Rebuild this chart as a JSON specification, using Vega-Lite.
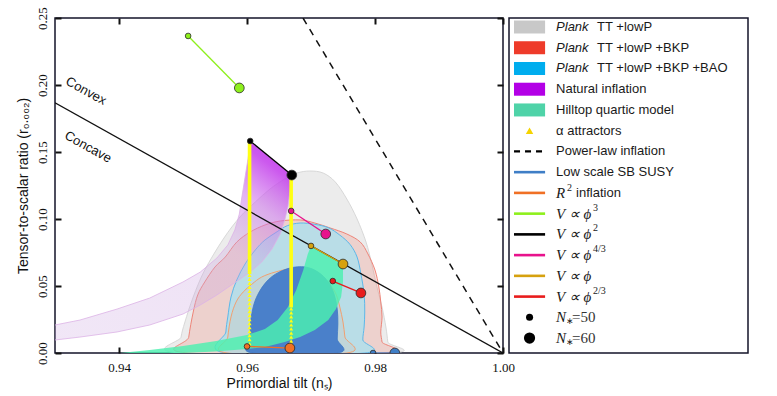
{
  "$schema": "https://vega.github.io/schema/vega-lite/v6.json",
  "background": "white",
  "padding": {"left": 15, "top": 5, "right": 5, "bottom": 5},
  "spacing": 6,
  "bounds": "flush",
  "config": {
    "font": "Liberation Sans",
    "view": {"stroke": "#14142a", "strokeWidth": 1.5}
  },
  "datasets": {
    "contours": [
      {"r": "grey", "x": 0.9495, "y": 0}, {"r": "grey", "x": 0.9497, "y": 0.0119}, {"r": "grey", "x": 0.9503, "y": 0.0231}, {"r": "grey", "x": 0.9516, "y": 0.0418}, {"r": "grey", "x": 0.9534, "y": 0.0619}, {"r": "grey", "x": 0.9563, "y": 0.0851}, {"r": "grey", "x": 0.9589, "y": 0.1015}, {"r": "grey", "x": 0.9613, "y": 0.1127}, {"r": "grey", "x": 0.9636, "y": 0.1224}, {"r": "grey", "x": 0.9659, "y": 0.1299}, {"r": "grey", "x": 0.9678, "y": 0.1343}, {"r": "grey", "x": 0.9698, "y": 0.1358}, {"r": "grey", "x": 0.9719, "y": 0.1343}, {"r": "grey", "x": 0.9738, "y": 0.1276}, {"r": "grey", "x": 0.9756, "y": 0.1149}, {"r": "grey", "x": 0.9772, "y": 0.1000}, {"r": "grey", "x": 0.9786, "y": 0.0828}, {"r": "grey", "x": 0.9795, "y": 0.0664}, {"r": "grey", "x": 0.9803, "y": 0.0493}, {"r": "grey", "x": 0.9811, "y": 0.0343}, {"r": "grey", "x": 0.9817, "y": 0.0194}, {"r": "grey", "x": 0.9820, "y": 0.0082}, {"r": "grey", "x": 0.9822, "y": 0},
      {"r": "red2", "x": 0.9508, "y": 0}, {"r": "red2", "x": 0.9509, "y": 0.0119}, {"r": "red2", "x": 0.9516, "y": 0.0306}, {"r": "red2", "x": 0.9523, "y": 0.0433}, {"r": "red2", "x": 0.9534, "y": 0.0530}, {"r": "red2", "x": 0.9550, "y": 0.0642}, {"r": "red2", "x": 0.9566, "y": 0.0716}, {"r": "red2", "x": 0.9584, "y": 0.0828}, {"r": "red2", "x": 0.9605, "y": 0.0903}, {"r": "red2", "x": 0.9628, "y": 0.0955}, {"r": "red2", "x": 0.9652, "y": 0.0985}, {"r": "red2", "x": 0.9683, "y": 0.0993}, {"r": "red2", "x": 0.9706, "y": 0.0970}, {"r": "red2", "x": 0.9730, "y": 0.0933}, {"r": "red2", "x": 0.9756, "y": 0.0888}, {"r": "red2", "x": 0.9777, "y": 0.0828}, {"r": "red2", "x": 0.9789, "y": 0.0739}, {"r": "red2", "x": 0.9800, "y": 0.0619}, {"r": "red2", "x": 0.9806, "y": 0.0493}, {"r": "red2", "x": 0.9809, "y": 0.0381}, {"r": "red2", "x": 0.9811, "y": 0.0269}, {"r": "red2", "x": 0.9809, "y": 0.0157}, {"r": "red2", "x": 0.9811, "y": 0.0082}, {"r": "red2", "x": 0.9813, "y": 0},
      {"r": "blue2", "x": 0.9566, "y": 0}, {"r": "blue2", "x": 0.9567, "y": 0.0157}, {"r": "blue2", "x": 0.9570, "y": 0.0269}, {"r": "blue2", "x": 0.9575, "y": 0.0418}, {"r": "blue2", "x": 0.9584, "y": 0.0545}, {"r": "blue2", "x": 0.9597, "y": 0.0664}, {"r": "blue2", "x": 0.9613, "y": 0.0769}, {"r": "blue2", "x": 0.9628, "y": 0.0843}, {"r": "blue2", "x": 0.9647, "y": 0.0905}, {"r": "blue2", "x": 0.9663, "y": 0.0950}, {"r": "blue2", "x": 0.9683, "y": 0.0970}, {"r": "blue2", "x": 0.9706, "y": 0.0960}, {"r": "blue2", "x": 0.9727, "y": 0.0935}, {"r": "blue2", "x": 0.9745, "y": 0.0880}, {"r": "blue2", "x": 0.9761, "y": 0.0810}, {"r": "blue2", "x": 0.9772, "y": 0.0716}, {"r": "blue2", "x": 0.9778, "y": 0.0590}, {"r": "blue2", "x": 0.9783, "y": 0.0440}, {"r": "blue2", "x": 0.9784, "y": 0.0306}, {"r": "blue2", "x": 0.9783, "y": 0.0194}, {"r": "blue2", "x": 0.9781, "y": 0.0097}, {"r": "blue2", "x": 0.9784, "y": 0},
      {"r": "red1", "x": 0.9569, "y": 0}, {"r": "red1", "x": 0.9570, "y": 0.0119}, {"r": "red1", "x": 0.9575, "y": 0.0269}, {"r": "red1", "x": 0.9583, "y": 0.0381}, {"r": "red1", "x": 0.9594, "y": 0.0455}, {"r": "red1", "x": 0.9608, "y": 0.0515}, {"r": "red1", "x": 0.9623, "y": 0.0567}, {"r": "red1", "x": 0.9644, "y": 0.0604}, {"r": "red1", "x": 0.9667, "y": 0.0627}, {"r": "red1", "x": 0.9691, "y": 0.0627}, {"r": "red1", "x": 0.9711, "y": 0.0590}, {"r": "red1", "x": 0.9727, "y": 0.0530}, {"r": "red1", "x": 0.9739, "y": 0.0440}, {"r": "red1", "x": 0.9745, "y": 0.0343}, {"r": "red1", "x": 0.9750, "y": 0.0231}, {"r": "red1", "x": 0.9753, "y": 0.0119}, {"r": "red1", "x": 0.9756, "y": 0},
      {"r": "blue1", "x": 0.9608, "y": 0}, {"r": "blue1", "x": 0.9605, "y": 0.0119}, {"r": "blue1", "x": 0.9606, "y": 0.0246}, {"r": "blue1", "x": 0.9611, "y": 0.0366}, {"r": "blue1", "x": 0.9619, "y": 0.0455}, {"r": "blue1", "x": 0.9630, "y": 0.0530}, {"r": "blue1", "x": 0.9645, "y": 0.0590}, {"r": "blue1", "x": 0.9667, "y": 0.0634}, {"r": "blue1", "x": 0.9691, "y": 0.0642}, {"r": "blue1", "x": 0.9711, "y": 0.0604}, {"r": "blue1", "x": 0.9727, "y": 0.0530}, {"r": "blue1", "x": 0.9736, "y": 0.0440}, {"r": "blue1", "x": 0.9741, "y": 0.0328}, {"r": "blue1", "x": 0.9742, "y": 0.0216}, {"r": "blue1", "x": 0.9741, "y": 0.0104}, {"r": "blue1", "x": 0.9742, "y": 0}
    ],
    "natural": [
      {"x": 0.925, "y": 0.0175}, {"x": 0.9300, "y": 0.0209}, {"x": 0.9339, "y": 0.0246}, {"x": 0.9397, "y": 0.0328}, {"x": 0.9448, "y": 0.0410}, {"x": 0.9500, "y": 0.0530}, {"x": 0.9527, "y": 0.0604}, {"x": 0.9553, "y": 0.0709}, {"x": 0.9570, "y": 0.0806}, {"x": 0.9581, "y": 0.0918}, {"x": 0.9588, "y": 0.1037}, {"x": 0.9592, "y": 0.1164}, {"x": 0.9597, "y": 0.1313}, {"x": 0.9602, "y": 0.1463}, {"x": 0.9605, "y": 0.1582}, {"x": 0.9670, "y": 0.1328}, {"x": 0.9667, "y": 0.1201}, {"x": 0.9664, "y": 0.1090}, {"x": 0.9659, "y": 0.0993}, {"x": 0.9652, "y": 0.0888}, {"x": 0.9639, "y": 0.0776}, {"x": 0.9623, "y": 0.0679}, {"x": 0.9605, "y": 0.0604}, {"x": 0.9578, "y": 0.0515}, {"x": 0.9553, "y": 0.0433}, {"x": 0.9527, "y": 0.0358}, {"x": 0.9500, "y": 0.0291}, {"x": 0.9448, "y": 0.0209}, {"x": 0.9397, "y": 0.0157}, {"x": 0.9339, "y": 0.0119}, {"x": 0.9300, "y": 0.0097}, {"x": 0.925, "y": 0.0070}
    ],
    "hilltop": [
      {"x": 0.9402, "y": 0}, {"x": 0.9448, "y": 0.0022}, {"x": 0.9500, "y": 0.0052}, {"x": 0.9552, "y": 0.0090}, {"x": 0.9600, "y": 0.0134}, {"x": 0.9628, "y": 0.0179}, {"x": 0.9648, "y": 0.0246}, {"x": 0.9664, "y": 0.0343}, {"x": 0.9677, "y": 0.0470}, {"x": 0.9688, "y": 0.0619}, {"x": 0.9695, "y": 0.0739}, {"x": 0.9700, "y": 0.0799}, {"x": 0.9750, "y": 0.0664}, {"x": 0.9750, "y": 0.0530}, {"x": 0.9747, "y": 0.0418}, {"x": 0.9739, "y": 0.0328}, {"x": 0.9727, "y": 0.0246}, {"x": 0.9706, "y": 0.0172}, {"x": 0.9683, "y": 0.0119}, {"x": 0.9659, "y": 0.0082}, {"x": 0.9628, "y": 0.0045}, {"x": 0.9600, "y": 0.0030}, {"x": 0.9550, "y": 0.0011}, {"x": 0.9500, "y": 0}
    ],
    "models": [
      {"model": "phi3", "N": 50, "x": 0.9508, "y": 0.2366}, {"model": "phi3", "N": 60, "x": 0.9588, "y": 0.1978},
      {"model": "phi2", "N": 50, "x": 0.9605, "y": 0.1582}, {"model": "phi2", "N": 60, "x": 0.9670, "y": 0.1328},
      {"model": "phi43", "N": 50, "x": 0.9669, "y": 0.1060}, {"model": "phi43", "N": 60, "x": 0.9723, "y": 0.0888},
      {"model": "phi1", "N": 50, "x": 0.9700, "y": 0.0799}, {"model": "phi1", "N": 60, "x": 0.9750, "y": 0.0664},
      {"model": "phi23", "N": 50, "x": 0.9734, "y": 0.0537}, {"model": "phi23", "N": 60, "x": 0.9778, "y": 0.0448},
      {"model": "r2", "N": 50, "x": 0.9600, "y": 0.0049}, {"model": "r2", "N": 60, "x": 0.9667, "y": 0.0037},
      {"model": "susy", "N": 50, "x": 0.9797, "y": 0.0}, {"model": "susy", "N": 60, "x": 0.9831, "y": 0.0}
    ],
    "alpha_rules": [
      {"x": 0.9604, "y": 0.1575, "y2": 0.059},
      {"x": 0.9669, "y": 0.1320, "y2": 0.034}
    ],
    "alpha_pts": [
      {"x": 0.9604, "y": 0.058}, {"x": 0.9604, "y": 0.055}, {"x": 0.9604, "y": 0.052}, {"x": 0.9604, "y": 0.049}, {"x": 0.9604, "y": 0.046}, {"x": 0.9604, "y": 0.043}, {"x": 0.9604, "y": 0.040}, {"x": 0.9604, "y": 0.037}, {"x": 0.9604, "y": 0.034}, {"x": 0.9604, "y": 0.031}, {"x": 0.9604, "y": 0.028}, {"x": 0.9604, "y": 0.025}, {"x": 0.9604, "y": 0.022}, {"x": 0.9604, "y": 0.019}, {"x": 0.9604, "y": 0.016}, {"x": 0.9604, "y": 0.013}, {"x": 0.9604, "y": 0.010}, {"x": 0.9604, "y": 0.007},
      {"x": 0.9669, "y": 0.033}, {"x": 0.9669, "y": 0.030}, {"x": 0.9669, "y": 0.027}, {"x": 0.9669, "y": 0.024}, {"x": 0.9669, "y": 0.021}, {"x": 0.9669, "y": 0.018}, {"x": 0.9669, "y": 0.015}, {"x": 0.9669, "y": 0.012}, {"x": 0.9669, "y": 0.009}, {"x": 0.9669, "y": 0.007}
    ],
    "guides": [
      {"g": "divider", "x": 0.93, "y": 0.18667, "x2": 1.0, "y2": 0},
      {"g": "powerlaw", "x": 0.96875, "y": 0.25, "x2": 1.0, "y2": 0}
    ],
    "notes": [
      {"x": 0.93484, "y": 0.1955, "label": "Convex"},
      {"x": 0.93516, "y": 0.1537, "label": "Concave"}
    ],
    "legend": [
      {"i": 0, "key": "p1", "pre": "Plank", "txt": "TT +lowP"},
      {"i": 1, "key": "p2", "pre": "Plank", "txt": "TT +lowP +BKP"},
      {"i": 2, "key": "p3", "pre": "Plank", "txt": "TT +lowP +BKP +BAO"},
      {"i": 3, "key": "nat", "txt": "Natural inflation"},
      {"i": 4, "key": "hill", "txt": "Hilltop quartic model"},
      {"i": 5, "key": "alpha", "txt": "α attractors"},
      {"i": 6, "key": "pl", "txt": "Power-law inflation"},
      {"i": 7, "key": "susy", "txt": "Low scale SB SUSY"},
      {"i": 8, "key": "r2", "pre": "R", "sup": "2", "txt": "inflation"},
      {"i": 9, "key": "phi3", "pre": "V ∝ ϕ", "sup": "3"},
      {"i": 10, "key": "phi2", "pre": "V ∝ ϕ", "sup": "2"},
      {"i": 11, "key": "phi43", "pre": "V ∝ ϕ", "sup": "4/3"},
      {"i": 12, "key": "phi1", "pre": "V ∝ ϕ", "sup": ""},
      {"i": 13, "key": "phi23", "pre": "V ∝ ϕ", "sup": "2/3"},
      {"i": 14, "key": "n50", "pre": "N", "sub": "∗", "txt": "=50"},
      {"i": 15, "key": "n60", "pre": "N", "sub": "∗", "txt": "=60"}
    ]
  },
  "hconcat": [
    {
      "width": 448,
      "height": 335,
      "encoding": {
        "x": {"field": "x", "type": "quantitative", "scale": {"domain": [0.93, 1.0], "nice": false, "zero": false}, "axis": null},
        "y": {"field": "y", "type": "quantitative", "scale": {"domain": [0, 0.25], "nice": false, "zero": false}, "axis": null}
      },
      "layer": [
        {
          "data": {"name": "contours"},
          "transform": [{"filter": "datum.r === 'grey'"}],
          "mark": {"type": "line", "interpolate": "cardinal-closed", "fill": "#ececec", "stroke": "#d8d8d8", "strokeWidth": 1, "clip": true},
          "encoding": {
            "x": {"field": "x", "type": "quantitative", "scale": {"domain": [0.93, 1.0], "nice": false, "zero": false},
              "axis": {"orient": "bottom", "values": [0.94, 0.96, 0.98, 1.0], "format": ".2f", "domain": false, "grid": false, "tickSize": -6, "tickWidth": 2, "tickColor": "#111", "labelFont": "Liberation Serif", "labelFontSize": 13, "labelColor": "#111", "labelPadding": 24, "labelBaseline": "alphabetic", "labelFlush": false, "title": "Primordial tilt (nₛ)", "titleFont": "Liberation Sans", "titleFontSize": 14, "titleFontWeight": "normal", "titleColor": "#111", "titlePadding": 2}},
            "y": {"field": "y", "type": "quantitative", "scale": {"domain": [0, 0.25], "nice": false, "zero": false},
              "axis": {"orient": "left", "values": [0, 0.05, 0.1, 0.15, 0.2, 0.25], "format": ".2f", "domain": false, "grid": false, "tickSize": -6, "tickWidth": 2, "tickColor": "#111", "labelFont": "Liberation Serif", "labelFontSize": 13, "labelColor": "#111", "labelAngle": -90, "labelAlign": "center", "labelBaseline": "alphabetic", "labelPadding": 15, "labelFlush": false, "title": "Tensor-to-scalar ratio (r₀.₀₀₂)", "titleFont": "Liberation Sans", "titleFontSize": 14, "titleFontWeight": "normal", "titleColor": "#111", "titlePadding": 6}},
            "order": {"value": null}
          }
        },
        {
          "data": {"name": "contours"},
          "transform": [{"filter": "datum.r === 'red2'"}],
          "mark": {"type": "line", "interpolate": "cardinal-closed", "fill": "#f07060", "fillOpacity": 0.22, "stroke": "#ee8478", "strokeWidth": 1, "clip": true},
          "encoding": {"order": {"value": null}}
        },
        {
          "data": {"name": "contours"},
          "transform": [{"filter": "datum.r === 'blue2'"}],
          "mark": {"type": "line", "interpolate": "cardinal-closed", "fill": "#a2e2f2", "fillOpacity": 0.7, "stroke": "#5cb8ea", "strokeWidth": 1, "clip": true},
          "encoding": {"order": {"value": null}}
        },
        {
          "data": {"name": "contours"},
          "transform": [{"filter": "datum.r === 'red1'"}],
          "mark": {"type": "line", "interpolate": "cardinal-closed", "fill": "#f4a070", "fillOpacity": 0.12, "stroke": "#f2a070", "strokeWidth": 1, "clip": true},
          "encoding": {"order": {"value": null}}
        },
        {
          "data": {"name": "contours"},
          "transform": [{"filter": "datum.r === 'blue1'"}],
          "mark": {"type": "line", "interpolate": "cardinal-closed", "fill": "#4a80ca", "stroke": "#3f78c4", "strokeWidth": 0.8, "clip": true},
          "encoding": {"order": {"value": null}}
        },
        {
          "data": {"name": "hilltop"},
          "mark": {"type": "line", "interpolate": "linear-closed", "fill": "#4cf0b0", "fillOpacity": 0.82, "strokeWidth": 0, "clip": true},
          "encoding": {"order": {"value": null}}
        },
        {
          "data": {"name": "natural"},
          "mark": {"type": "line", "interpolate": "linear-closed", "clip": true, "stroke": "#dcb2e6", "strokeWidth": 0.8,
            "fill": {"gradient": "linear", "x1": 0, "y1": 1, "x2": 1, "y2": 0, "stops": [
              {"offset": 0, "color": "rgba(205,170,225,0.28)"},
              {"offset": 0.62, "color": "rgba(205,165,225,0.32)"},
              {"offset": 0.78, "color": "rgba(205,115,235,0.55)"},
              {"offset": 0.9, "color": "rgba(195,60,235,0.85)"},
              {"offset": 1, "color": "rgba(190,40,235,0.95)"}
            ]}},
          "encoding": {"order": {"value": null}}
        },
        {
          "data": {"name": "guides"},
          "transform": [{"filter": "datum.g === 'divider'"}],
          "mark": {"type": "rule", "color": "#111", "strokeWidth": 1.3, "clip": true},
          "encoding": {
            "x": {"field": "x", "type": "quantitative", "scale": {"domain": [0.93, 1.0], "nice": false, "zero": false},
              "axis": {"orient": "top", "values": [0.94, 0.96, 0.98, 1.0], "labels": false, "domain": false, "grid": false, "tickSize": -6, "tickWidth": 2, "tickColor": "#111", "title": null}},
            "y": {"field": "y", "type": "quantitative", "scale": {"domain": [0, 0.25], "nice": false, "zero": false},
              "axis": {"orient": "right", "values": [0, 0.05, 0.1, 0.15, 0.2, 0.25], "labels": false, "domain": false, "grid": false, "tickSize": -6, "tickWidth": 2, "tickColor": "#111", "title": null}},
            "x2": {"field": "x2"},
            "y2": {"field": "y2"}
          }
        },
        {
          "data": {"name": "guides"},
          "transform": [{"filter": "datum.g === 'powerlaw'"}],
          "mark": {"type": "rule", "color": "#111", "strokeWidth": 1.5, "strokeDash": [7, 6], "clip": true},
          "encoding": {"x2": {"field": "x2"}, "y2": {"field": "y2"}}
        },
        {
          "data": {"name": "alpha_rules"},
          "mark": {"type": "rule", "color": "#ffff14", "strokeWidth": 3.6, "clip": true},
          "encoding": {"y2": {"field": "y2"}}
        },
        {
          "data": {"name": "alpha_pts"},
          "mark": {"type": "point", "shape": "triangle-up", "filled": true, "color": "#ffff14", "opacity": 1, "size": 16, "clip": true}
        },
        {
          "data": {"name": "models"},
          "mark": {"type": "line", "strokeWidth": 1.3, "clip": true},
          "encoding": {
            "color": {"field": "model", "type": "nominal", "legend": null,
              "scale": {"domain": ["p1", "p2", "p3", "nat", "hill", "alpha", "pl", "susy", "r2", "phi3", "phi2", "phi43", "phi1", "phi23", "n50", "n60"],
                "range": ["#c8c8c8", "#ee3b2a", "#00adee", "#b300e6", "#4fd3a8", "#f5d300", "#000000", "#3f7ec6", "#f07025", "#8ef01c", "#000000", "#e8128c", "#d6a10f", "#e81c1c", "#000000", "#000000"]}},
            "order": {"field": "N", "type": "quantitative"}
          }
        },
        {
          "data": {"name": "models"},
          "mark": {"type": "point", "shape": "circle", "filled": true, "opacity": 1, "stroke": "#2a2a2a", "strokeWidth": 0.8, "clip": true},
          "encoding": {
            "color": {"field": "model", "type": "nominal", "legend": null,
              "scale": {"domain": ["p1", "p2", "p3", "nat", "hill", "alpha", "pl", "susy", "r2", "phi3", "phi2", "phi43", "phi1", "phi23", "n50", "n60"],
                "range": ["#c8c8c8", "#ee3b2a", "#00adee", "#b300e6", "#4fd3a8", "#f5d300", "#000000", "#3f7ec6", "#f07025", "#8ef01c", "#000000", "#e8128c", "#d6a10f", "#e81c1c", "#000000", "#000000"]}},
            "size": {"field": "N", "type": "quantitative", "scale": {"domain": [50, 60], "range": [32, 95]}, "legend": null}
          }
        },
        {
          "data": {"name": "notes"},
          "mark": {"type": "text", "angle": 29, "font": "Liberation Sans", "fontSize": 13, "color": "#111", "align": "center", "baseline": "middle"},
          "encoding": {"text": {"field": "label"}}
        }
      ],
      "resolve": {"axis": {"x": "independent", "y": "independent"}}
    },
    {
      "width": 239,
      "height": 335,
      "view": {"fill": "white"},
      "data": {"name": "legend"},
      "encoding": {
        "y": {"field": "i", "type": "quantitative", "scale": {"domain": [15.72, -0.434], "nice": false, "zero": false}, "axis": null}
      },
      "layer": [
        {
          "transform": [{"filter": "datum.i <= 4"}],
          "mark": {"type": "rule", "strokeWidth": 13, "strokeCap": "butt"},
          "encoding": {
            "x": {"datum": 0.021, "type": "quantitative", "scale": {"domain": [0, 1]}, "axis": null},
            "x2": {"datum": 0.151},
            "color": {"field": "key", "type": "nominal", "legend": null,
              "scale": {"domain": ["p1", "p2", "p3", "nat", "hill", "alpha", "pl", "susy", "r2", "phi3", "phi2", "phi43", "phi1", "phi23", "n50", "n60"],
                "range": ["#c8c8c8", "#ee3b2a", "#00adee", "#b300e6", "#4fd3a8", "#f5d300", "#000000", "#3f7ec6", "#f07025", "#8ef01c", "#000000", "#e8128c", "#d6a10f", "#e81c1c", "#000000", "#000000"]}}
          }
        },
        {
          "transform": [{"filter": "datum.i === 5"}],
          "mark": {"type": "point", "shape": "triangle-up", "filled": true, "opacity": 1, "size": 55},
          "encoding": {
            "x": {"datum": 0.086, "type": "quantitative", "scale": {"domain": [0, 1]}, "axis": null},
            "color": {"field": "key", "type": "nominal", "legend": null}
          }
        },
        {
          "transform": [{"filter": "datum.i === 6"}],
          "mark": {"type": "rule", "strokeWidth": 2.2, "strokeDash": [6, 5], "color": "#000"},
          "encoding": {
            "x": {"datum": 0.021, "type": "quantitative", "scale": {"domain": [0, 1]}, "axis": null},
            "x2": {"datum": 0.151}
          }
        },
        {
          "transform": [{"filter": "datum.i >= 7 && datum.i <= 13"}],
          "mark": {"type": "rule", "strokeWidth": 2.6},
          "encoding": {
            "x": {"datum": 0.021, "type": "quantitative", "scale": {"domain": [0, 1]}, "axis": null},
            "x2": {"datum": 0.151},
            "color": {"field": "key", "type": "nominal", "legend": null}
          }
        },
        {
          "transform": [{"filter": "datum.i >= 14"}],
          "mark": {"type": "point", "shape": "circle", "filled": true, "opacity": 1, "color": "#000"},
          "encoding": {
            "x": {"datum": 0.086, "type": "quantitative", "scale": {"domain": [0, 1]}, "axis": null},
            "size": {"field": "key", "type": "ordinal", "scale": {"domain": ["n50", "n60"], "range": [50, 125]}, "legend": null}
          }
        },
        {
          "transform": [{"filter": "datum.i <= 2"}],
          "mark": {"type": "text", "font": "Liberation Sans", "fontStyle": "italic", "fontSize": 13, "color": "#1a1a1a", "align": "left", "baseline": "middle"},
          "encoding": {
            "x": {"datum": 0.197, "type": "quantitative", "scale": {"domain": [0, 1]}, "axis": null},
            "text": {"field": "pre"}
          }
        },
        {
          "transform": [{"filter": "datum.i <= 2"}],
          "mark": {"type": "text", "font": "Liberation Sans", "fontSize": 13, "color": "#1a1a1a", "align": "left", "baseline": "middle", "dx": 41},
          "encoding": {
            "x": {"datum": 0.197, "type": "quantitative", "scale": {"domain": [0, 1]}, "axis": null},
            "text": {"field": "txt"}
          }
        },
        {
          "transform": [{"filter": "datum.i >= 3 && datum.i <= 7"}],
          "mark": {"type": "text", "font": "Liberation Sans", "fontSize": 13, "color": "#1a1a1a", "align": "left", "baseline": "middle"},
          "encoding": {
            "x": {"datum": 0.197, "type": "quantitative", "scale": {"domain": [0, 1]}, "axis": null},
            "text": {"field": "txt"}
          }
        },
        {
          "transform": [{"filter": "datum.i >= 8"}],
          "mark": {"type": "text", "font": "Liberation Serif", "fontStyle": "italic", "fontSize": 15, "color": "#1a1a1a", "align": "left", "baseline": "middle"},
          "encoding": {
            "x": {"datum": 0.197, "type": "quantitative", "scale": {"domain": [0, 1]}, "axis": null},
            "text": {"field": "pre"}
          }
        },
        {
          "transform": [{"filter": "datum.i === 8"}],
          "mark": {"type": "text", "font": "Liberation Serif", "fontSize": 10, "color": "#1a1a1a", "align": "left", "baseline": "middle", "dx": 11, "dy": -5},
          "encoding": {
            "x": {"datum": 0.197, "type": "quantitative", "scale": {"domain": [0, 1]}, "axis": null},
            "text": {"field": "sup"}
          }
        },
        {
          "transform": [{"filter": "datum.i === 8"}],
          "mark": {"type": "text", "font": "Liberation Sans", "fontSize": 13, "color": "#1a1a1a", "align": "left", "baseline": "middle", "dx": 20},
          "encoding": {
            "x": {"datum": 0.197, "type": "quantitative", "scale": {"domain": [0, 1]}, "axis": null},
            "text": {"field": "txt"}
          }
        },
        {
          "transform": [{"filter": "datum.i >= 9 && datum.i <= 13"}],
          "mark": {"type": "text", "font": "Liberation Serif", "fontSize": 10, "color": "#1a1a1a", "align": "left", "baseline": "middle", "dx": 37, "dy": -6},
          "encoding": {
            "x": {"datum": 0.197, "type": "quantitative", "scale": {"domain": [0, 1]}, "axis": null},
            "text": {"field": "sup"}
          }
        },
        {
          "transform": [{"filter": "datum.i >= 14"}],
          "mark": {"type": "text", "font": "Liberation Serif", "fontSize": 9, "color": "#1a1a1a", "align": "left", "baseline": "middle", "dx": 10, "dy": 4},
          "encoding": {
            "x": {"datum": 0.197, "type": "quantitative", "scale": {"domain": [0, 1]}, "axis": null},
            "text": {"field": "sub"}
          }
        },
        {
          "transform": [{"filter": "datum.i >= 14"}],
          "mark": {"type": "text", "font": "Liberation Serif", "fontSize": 15, "color": "#333", "align": "left", "baseline": "middle", "dx": 16},
          "encoding": {
            "x": {"datum": 0.197, "type": "quantitative", "scale": {"domain": [0, 1]}, "axis": null},
            "text": {"field": "txt"}
          }
        }
      ]
    }
  ],
  "resolve": {"scale": {"x": "independent", "y": "independent", "color": "independent", "size": "independent"}}
}
